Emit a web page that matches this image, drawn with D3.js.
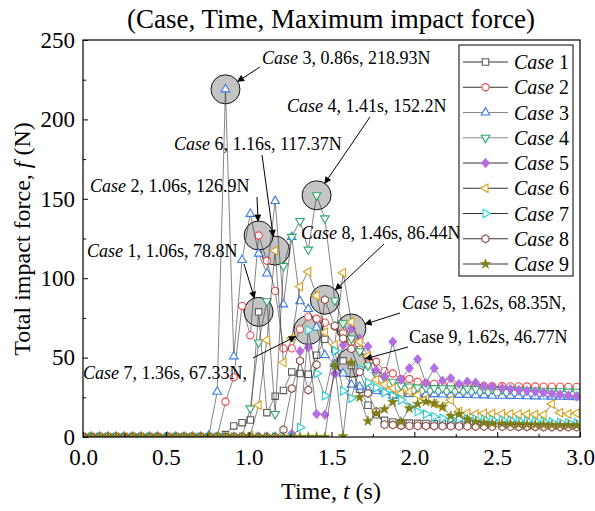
<!DOCTYPE html>
<html>
<head>
<meta charset="utf-8">
<script src="https://cdn.jsdelivr.net/npm/d3@7/dist/d3.min.js"></script>
<style>
  html, body { margin: 0; padding: 0; background: #fff; }
  svg { display: block; }
  text { font-family: "Liberation Serif", "Times New Roman", serif; fill: #000; }
</style>
</head>
<body>
<svg id="chart" width="595" height="511"></svg>
<script>
// Sample times (s), shared by every case
const times = [
  0.00, 0.05, 0.10, 0.15, 0.20, 0.25, 0.30, 0.35, 0.40, 0.45,
  0.51, 0.56, 0.61, 0.66, 0.71, 0.76, 0.81, 0.86, 0.91, 0.96,
  1.01, 1.06, 1.11, 1.16, 1.21, 1.26, 1.31, 1.36, 1.41, 1.46,
  1.52, 1.57, 1.62, 1.67, 1.72, 1.77, 1.82, 1.87, 1.92, 1.97,
  2.02, 2.07, 2.12, 2.17, 2.22, 2.27, 2.32, 2.37, 2.42, 2.47,
  2.53, 2.58, 2.63, 2.68, 2.73, 2.78, 2.83, 2.88, 2.93, 2.98
];

// Total impact force (N) for each case
const case1 = [
  0, 0, 0, 0, 0, 0, 0, 0, 0, 0,
  0, 0, 0, 0, 0, 0, 0, 1.5, 7, 9,
  10.7, 78.8, 15.3, 25.7, 29.3, 41, 40, 39.5, 51.5, 61.5,
  55, 48, 45, 30, 20, 14, 10.5, 9.5, 9, 8.8,
  8.6, 8.5, 8.3, 8.2, 8, 8, 7.9, 7.8, 7.8, 7.7,
  7.6, 7.6, 7.5, 7.5, 7.4, 7.4, 7.3, 7.3, 7.2, 7.2
];
const case2 = [
  0, 0, 0, 0, 0, 0, 0, 0, 0, 0,
  0, 0, 0, 0, 0, 0, 0, 22.2, 37.6, 82.6,
  64, 126.9, 111, 92, 55.8, 55.8, 67.8, 75.8, 74.5, 72,
  69.5, 65.3, 60, 55, 50, 47.4, 41.5, 40, 36.5, 36.5,
  34.8, 33.8, 33.5, 33, 32.8, 32.5, 32.4, 32.3, 32.2, 32,
  32, 31.9, 31.9, 31.8, 31.8, 31.7, 31.7, 31.7, 31.6, 31.6
];
const case3 = [
  0, 0, 0, 0, 0, 0, 0, 0, 0, 0,
  0, 0, 0, 0, 0, 1, 28.5, 218.93, 50.8, 111.5,
  140.5, 115.5, 103, 148.6, 83.5, 126, 85.5, 80.6, 69, 51.6,
  46, 40, 33, 31.7, 30, 29, 28.5, 26, 27.5, 27,
  27.3, 26.8, 27, 26.8, 26.6, 26.5, 26.5, 26.3, 26.2, 26,
  26, 25.9, 25.8, 25.7, 25.6, 25.5, 25.4, 25.3, 25.2, 25
];
const case4 = [
  0, 0, 0, 0, 0, 0, 0, 0, 0, 0,
  0, 0, 0, 0, 0, 0, 0, 0, 0, 0,
  18, 59.5, 85.5, 14.5, 107.7, 126, 136, 118, 152.2, 137.7,
  86, 71.6, 62, 54, 45, 39, 37, 34.8, 32.5, 31.8,
  31.2, 31, 30.8, 30.7, 30.6, 30.5, 30.4, 30.3, 30.2, 30,
  29.9, 29.8, 29.6, 29.4, 29.3, 29.1, 29, 28.8, 28.6, 28.5
];
const case5 = [
  0, 0, 0, 0, 0, 0, 0, 0, 0, 0,
  0, 0, 0, 0, 0, 0, 0, 0, 0, 0,
  0, 0, 0, 0, 0, 2, 54, 56.5, 14.5, 14,
  40, 58, 68.35, 62, 57, 42, 38, 60, 36, 43.3,
  48.9, 33.8, 43.3, 35.5, 37, 33.4, 34.8, 34.2, 32, 31.7,
  30.7, 30.2, 29.6, 29.1, 28.6, 28, 27.4, 26.8, 26.2, 25.6
];
const case6 = [
  0, 0, 0, 0, 0, 0, 0, 0, 0, 0,
  0, 0, 0, 0, 0, 0, 0, 0, 0, 0,
  1, 20, 61, 117.37, 47, 62.2, 94.7, 104, 89, 66,
  58, 103.5, 72.5, 60, 51, 36, 33, 30.7, 27.5, 28.5,
  26.4, 24, 21, 19, 23.3, 16, 15, 14.5, 15, 14.8,
  14.6, 14.5, 14.4, 14.3, 14.2, 14, 20.8, 15.3, 14.5, 15
];
const case7 = [
  0, 0, 0, 0, 0, 0, 0, 0, 0, 0,
  0, 0, 0, 0, 0, 0, 0, 0, 0, 0,
  0, 0, 0, 0, 0, 0, 6, 67.33, 40, 26,
  54.3, 29, 24.4, 43, 34.3, 31, 28, 26, 23.3, 19,
  16, 14.5, 12.8, 11.8, 11.5, 11.3, 11.2, 11.1, 11, 10.8,
  10.6, 10.4, 10.2, 10, 9.8, 9.6, 9.4, 9.2, 9, 8.8
];
const case8 = [
  0, 0, 0, 0, 0, 0, 0, 0, 0, 0,
  0, 0, 0, 0, 0, 0, 0, 0, 0, 0,
  0, 0, 0, 0, 4.6, 30.5, 48, 29.6, 45.5, 86.44,
  70, 62, 55.5, 41, 27.5, 16, 7.8, 7.6, 7.2, 7,
  7, 6.9, 6.9, 6.8, 6.8, 6.7, 6.7, 6.6, 6.6, 6.5,
  6.5, 6.5, 6.4, 6.4, 6.4, 6.3, 6.3, 6.3, 6.2, 6.2
];
const case9 = [
  0, 0, 0, 0, 0, 0, 0, 0, 0, 0,
  0, 0, 0, 0, 0, 0, 0, 0, 0, 0,
  0, 0, 0, 0, 0, 0, 0, 0, 0, 0,
  45, 0.5, 46.77, 25, 10, 15, 17.5, 22, 9.6, 18,
  20.8, 22.2, 21.2, 19, 13.2, 14.5, 11.1, 9.6, 9, 8.6,
  8.4, 8.2, 8, 7.9, 7.8, 7.7, 7.6, 7.5, 7.4, 7.3
];

const caseNames = ["Case 1", "Case 2", "Case 3", "Case 4", "Case 5", "Case 6", "Case 7", "Case 8", "Case 9"];
const caseValues = [case1, case2, case3, case4, case5, case6, case7, case8, case9];

// Axis ticks
const xTicks = [0.0, 0.5, 1.0, 1.5, 2.0, 2.5, 3.0];
const xMinorTicks = [0.25, 0.75, 1.25, 1.75, 2.25, 2.75];
const yTicks = [0, 50, 100, 150, 200, 250];
const yMinorTicks = [25, 75, 125, 175, 225];

// Maximum impact force of each case: [case number, time (s), force (N)]
const peakCase  = [3, 4, 6, 2, 1, 8, 7, 5, 9];
const peakTime  = [0.86, 1.41, 1.16, 1.06, 1.06, 1.46, 1.36, 1.62, 1.62];
const peakForce = [218.93, 152.2, 117.37, 126.9, 78.8, 86.44, 67.33, 68.35, 46.77];

// ---- styling / layout ----
const W = 595, H = 511;
const plot = { left: 83, right: 580, top: 40, bottom: 437 };

const styles = [
  { color: "#5b5b5b", shape: "square",   filled: false },
  { color: "#f0474a", shape: "circle",   filled: false },
  { color: "#3a7bea", shape: "triUp",    filled: false },
  { color: "#2ea66a", shape: "triDown",  filled: false },
  { color: "#b36fe0", shape: "diamond",  filled: true  },
  { color: "#d9a015", shape: "triLeft",  filled: false },
  { color: "#22cfd6", shape: "triRight", filled: false },
  { color: "#8e4f4a", shape: "hexagon",  filled: false },
  { color: "#7f7f12", shape: "star",     filled: true  }
];

function shapePath(shape) {
  switch (shape) {
    case "square":   return "M-3.2,-3.2H3.2V3.2H-3.2Z";
    case "circle":   return "M3.6,0A3.6,3.6 0 1,1 -3.6,0A3.6,3.6 0 1,1 3.6,0Z";
    case "triUp":    return "M0,-4.9L4.3,2.5L-4.3,2.5Z";
    case "triDown":  return "M0,4.9L4.3,-2.5L-4.3,-2.5Z";
    case "triLeft":  return "M-4.9,0L2.5,-4.3L2.5,4.3Z";
    case "triRight": return "M4.9,0L-2.5,-4.3L-2.5,4.3Z";
    case "diamond":  return "M0,-5L4.3,0L0,5L-4.3,0Z";
    case "hexagon": {
      const r = 4;
      const pts = d3.range(6).map(i => {
        const a = Math.PI / 3 * i - Math.PI / 2;
        return [r * Math.cos(a), r * Math.sin(a)];
      });
      return "M" + pts.map(p => p[0].toFixed(2) + "," + p[1].toFixed(2)).join("L") + "Z";
    }
    case "star":     return d3.symbol(d3.symbolStar, 34)();
  }
}

// Label anchor (text start, baseline) and arrow tail for each peak callout
const callouts = [
  { tx: 262, ty: 64,  ax: 260, ay: 67,  italic: true },
  { tx: 287, ty: 112, ax: 370, ay: 117, italic: true },
  { tx: 174, ty: 150, ax: 262, ay: 155, italic: true },
  { tx: 90,  ty: 192, ax: 257, ay: 197, italic: true },
  { tx: 87,  ty: 257, ax: 244, ay: 264, italic: true },
  { tx: 301, ty: 239, ax: 384, ay: 244, italic: true },
  { tx: 83,  ty: 379, ax: 253, ay: 358, italic: true },
  { tx: 402, ty: 309, ax: 400, ay: 313, italic: true },
  { tx: 409, ty: 343, ax: 408, ay: 347, italic: false }
];

const svg = d3.select("#chart");

const x = d3.scaleLinear().domain([0, 3]).range([plot.left, plot.right]);
const y = d3.scaleLinear().domain([0, 250]).range([plot.bottom, plot.top]);

svg.append("defs").append("clipPath").attr("id", "plotClip")
  .append("rect")
  .attr("x", plot.left).attr("y", plot.top)
  .attr("width", plot.right - plot.left).attr("height", plot.bottom - plot.top);

svg.select("defs").append("marker")
  .attr("id", "arrowHead")
  .attr("viewBox", "0 0 10 10")
  .attr("refX", 9).attr("refY", 5)
  .attr("markerWidth", 9).attr("markerHeight", 7)
  .attr("markerUnits", "userSpaceOnUse")
  .attr("orient", "auto")
  .append("path").attr("d", "M0,0L10,5L0,10Z").attr("fill", "#000");

// Title
svg.append("text")
  .attr("x", 331).attr("y", 28)
  .attr("text-anchor", "middle")
  .attr("font-size", 27)
  .text("(Case, Time, Maximum impact force)");

// Highlight circles around each maximum
const circleR = 14.5;
const peakPoints = peakCase.map((c, i) => {
  const idx = times.indexOf(peakTime[i]);
  return { c, i, cx: x(times[idx]), cy: y(caseValues[c - 1][idx]) };
});

svg.append("g").attr("clip-path", "url(#plotClip)")
  .selectAll("circle").data(peakPoints).join("circle")
  .attr("cx", d => d.cx).attr("cy", d => d.cy).attr("r", circleR)
  .attr("fill", "#c4c4c4").attr("stroke", "#111").attr("stroke-width", 1);

// Series: line then symbols
const line = d3.line().x((d, i) => x(times[i])).y(d => y(d));
const dataG = svg.append("g").attr("clip-path", "url(#plotClip)");
caseValues.forEach((vals, s) => {
  const st = styles[s];
  const g = dataG.append("g");
  g.append("path").datum(vals)
    .attr("d", line)
    .attr("fill", "none")
    .attr("stroke", "#333")
    .attr("stroke-width", 0.6);
  g.selectAll("path.sym").data(vals).join("path")
    .attr("class", "sym")
    .attr("d", shapePath(st.shape))
    .attr("transform", (d, i) => `translate(${x(times[i])},${y(d)})`)
    .attr("fill", st.filled ? st.color : "#fff")
    .attr("stroke", st.color)
    .attr("stroke-width", st.filled ? 0.4 : 1.1);
});

// Axes
const xAxis = d3.axisBottom(x).tickValues(xTicks).tickFormat(d3.format(".1f"))
  .tickSizeInner(-5).tickSizeOuter(0).tickPadding(12);
const xMinor = d3.axisBottom(x).tickValues(xMinorTicks).tickFormat("")
  .tickSizeInner(-3).tickSizeOuter(0);
const yAxis = d3.axisLeft(y).tickValues(yTicks).tickFormat(d3.format("d"))
  .tickSizeInner(-5).tickSizeOuter(0).tickPadding(8);
const yMinor = d3.axisLeft(y).tickValues(yMinorTicks).tickFormat("")
  .tickSizeInner(-3).tickSizeOuter(0);

function styleAxis(g) {
  g.select(".domain").remove();
  g.selectAll("line").attr("stroke", "#000").attr("stroke-width", 1);
  g.selectAll("text").attr("font-family", "Liberation Serif, Times New Roman, serif")
    .attr("font-size", 23).attr("fill", "#000");
}
svg.append("g").attr("transform", `translate(0,${plot.bottom})`).call(xAxis).call(styleAxis);
svg.append("g").attr("transform", `translate(0,${plot.bottom})`).call(xMinor).call(styleAxis);
svg.append("g").attr("transform", `translate(${plot.left},0)`).call(yAxis).call(styleAxis);
svg.append("g").attr("transform", `translate(${plot.left},0)`).call(yMinor).call(styleAxis);

// Frame
svg.append("rect")
  .attr("x", plot.left).attr("y", plot.top)
  .attr("width", plot.right - plot.left).attr("height", plot.bottom - plot.top)
  .attr("fill", "none").attr("stroke", "#000").attr("stroke-width", 1.2);

// Axis titles
const xTitle = svg.append("text")
  .attr("x", 331).attr("y", 499).attr("text-anchor", "middle").attr("font-size", 24);
xTitle.append("tspan").text("Time, ");
xTitle.append("tspan").attr("font-style", "italic").text("t");
xTitle.append("tspan").text(" (s)");

const yTitle = svg.append("text")
  .attr("transform", "translate(30,239) rotate(-90)")
  .attr("text-anchor", "middle").attr("font-size", 24);
yTitle.append("tspan").text("Total impact force, ");
yTitle.append("tspan").attr("font-style", "italic").text("f");
yTitle.append("tspan").text(" (N)");

// Callouts
const annG = svg.append("g");
peakPoints.forEach((p, i) => {
  const c = callouts[i];
  const dx = c.ax - p.cx, dy = c.ay - p.cy;
  const len = Math.hypot(dx, dy);
  const ex = p.cx + dx / len * circleR, ey = p.cy + dy / len * circleR;
  annG.append("line")
    .attr("x1", c.ax).attr("y1", c.ay).attr("x2", ex).attr("y2", ey)
    .attr("stroke", "#000").attr("stroke-width", 1)
    .attr("marker-end", "url(#arrowHead)");
  const t = annG.append("text")
    .attr("x", c.tx).attr("y", c.ty).attr("font-size", 18);
  t.append("tspan").attr("font-style", c.italic ? "italic" : "normal").text("Case");
  const trailing = (peakCase[i] === 5 || peakCase[i] === 7) ? "," : "";
  t.append("tspan").text(` ${p.c}, ${peakTime[i].toFixed(2)}s, ${peakForce[i]}N${trailing}`);
});

// Legend
const leg = svg.append("g");
leg.append("rect")
  .attr("x", 459).attr("y", 45).attr("width", 114).attr("height", 231)
  .attr("fill", "#fff").attr("stroke", "#000").attr("stroke-width", 1);
caseNames.forEach((name, i) => {
  const st = styles[i];
  const ry = 62 + i * 25.25;
  leg.append("line")
    .attr("x1", 463).attr("x2", 508).attr("y1", ry).attr("y2", ry)
    .attr("stroke", (i === 2 || i === 3) ? "#888" : "#333").attr("stroke-width", 1);
  leg.append("path")
    .attr("d", shapePath(st.shape))
    .attr("transform", `translate(485.5,${ry})`)
    .attr("fill", st.filled ? st.color : "#fff")
    .attr("stroke", st.color)
    .attr("stroke-width", st.filled ? 0.4 : 1.1);
  const t = leg.append("text").attr("x", 514).attr("y", ry + 7).attr("font-size", 20);
  t.append("tspan").attr("font-style", "italic").text(name.split(" ")[0]);
  t.append("tspan").text(" " + name.split(" ")[1]);
});
</script>
</body>
</html>
